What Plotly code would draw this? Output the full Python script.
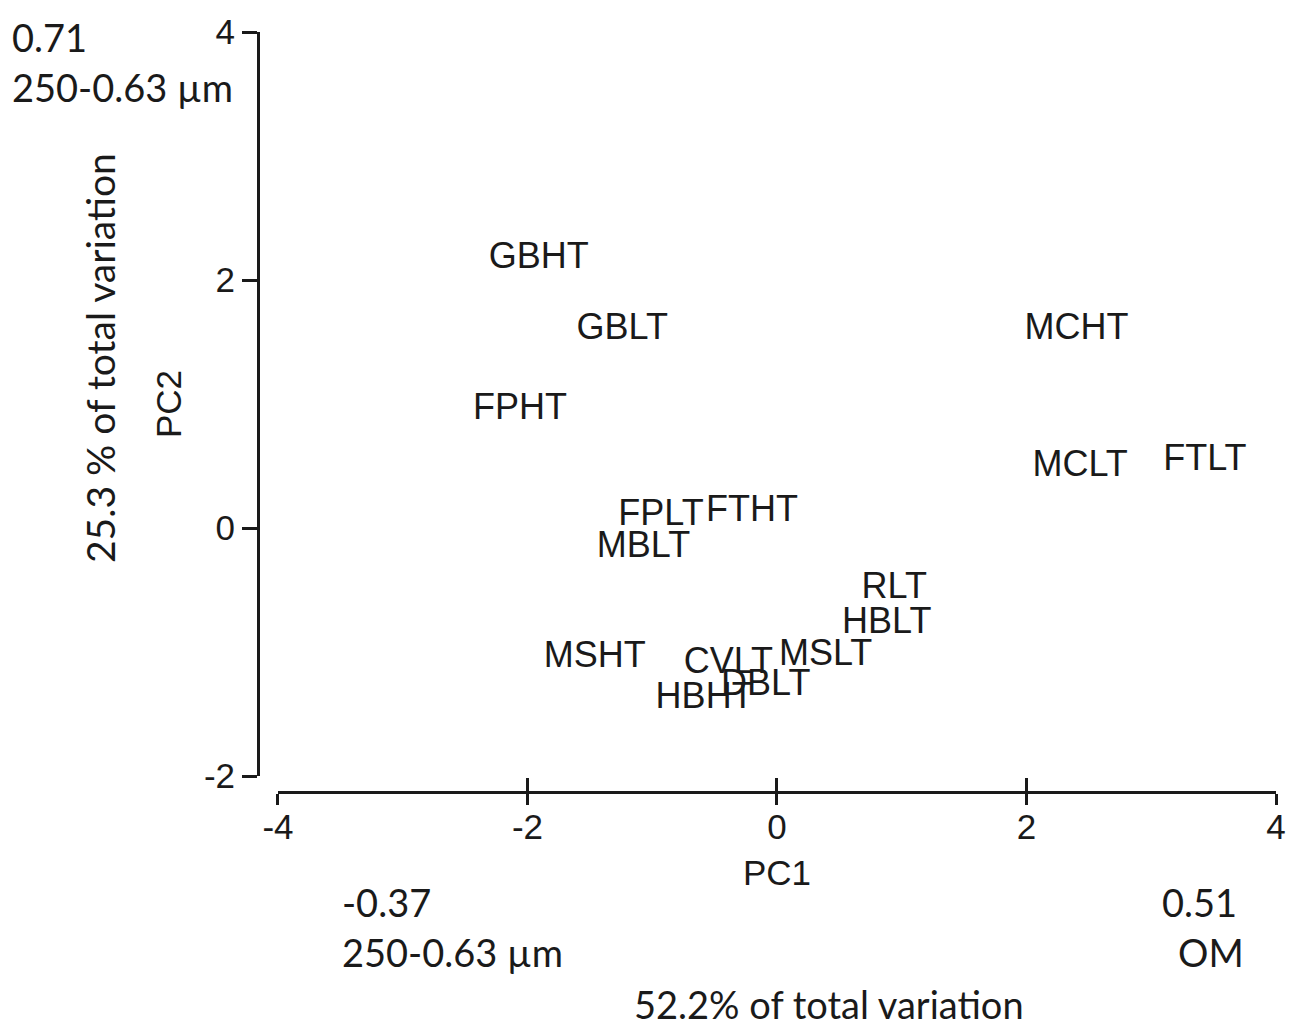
import plotly.graph_objects as go

# ---- data ----
labels = ["GBHT", "GBLT", "FPHT", "MCHT", "MCLT", "FTLT", "FPLT", "FTHT",
          "MBLT", "RLT", "HBLT", "MSHT", "MSLT", "CVLT", "DBLT", "HBHT"]
pc1 = [-1.91, -1.24, -2.06, 2.40, 2.43, 3.43, -0.93, -0.20,
       -1.07, 0.94, 0.88, -1.46, 0.39, -0.39, -0.09, -0.58]
pc2 = [2.17, 1.60, 0.95, 1.60, 0.49, 0.54, 0.10, 0.13,
       -0.16, -0.49, -0.77, -1.05, -1.03, -1.10, -1.27, -1.38]
x_ticks = [-4, -2, 0, 2, 4]
y_ticks = [-2, 0, 2, 4]

W, H = 1298, 1027
L, R, T, B = 258, 21, 27, 235
pw, ph = W - L - R, H - T - B

def px(x):
    return (x - L) / pw

def py(y):
    return (H - B - y) / ph

ARIAL = "Liberation Sans, Arial, sans-serif"
CALIBRI = "Lato, Carlito, Calibri, sans-serif"
INK = "#1a1a1a"

fig = go.Figure()
fig.add_trace(go.Scatter(
    x=pc1, y=pc2, text=labels, mode="text", textposition="middle center",
    textfont=dict(family=ARIAL, size=36, color=INK), showlegend=False,
    hoverinfo="text"))
# invisible trace on overlaid axis to activate inward ticks
fig.add_trace(go.Scatter(x=[x_ticks[0]], y=[y_ticks[0]], xaxis="x2", mode="markers",
                         marker=dict(opacity=0), showlegend=False, hoverinfo="skip"))

xd0 = px(278)
yd0 = py(776)

fig.update_layout(
    width=W, height=H, margin=dict(l=L, r=R, t=T, b=B),
    paper_bgcolor="white", plot_bgcolor="white",
    xaxis=dict(range=[-4, 4], domain=[xd0, 1], anchor="free", position=0,
               showgrid=False, zeroline=False, showline=True, linecolor=INK, linewidth=3,
               ticks="outside", ticklen=11, tickwidth=3, tickcolor=INK,
               tickvals=x_ticks, ticktext=[str(v) for v in x_ticks],
               ticklabelstandoff=-8,
               tickfont=dict(family=ARIAL, size=35, color=INK),
               title=dict(text="PC1", font=dict(family=ARIAL, size=35, color=INK), standoff=15)),
    xaxis2=dict(range=[-4, 4], domain=[xd0, 1], anchor="free", position=0, overlaying="x",
                showgrid=False, zeroline=False, showline=False,
                ticks="inside", ticklen=14, tickwidth=3, tickcolor=INK,
                tickvals=x_ticks, showticklabels=False),
    yaxis=dict(range=[-2, 4], domain=[yd0, 1], anchor="free", position=0,
               showgrid=False, zeroline=False, showline=True, linecolor=INK, linewidth=3,
               ticks="outside", ticklen=15, tickwidth=3, tickcolor=INK,
               tickvals=y_ticks, ticktext=[str(v) for v in y_ticks],
               tickfont=dict(family=ARIAL, size=35, color=INK),
               title=dict(text="PC2", font=dict(family=ARIAL, size=35, color=INK), standoff=10)),
)

ann = [
    ("0.71", 10, 32, "left"),
    ("250-0.63 µm", 10, 82, "left"),
    ("-0.37", 340, 903, "left"),
    ("250-0.63 µm", 340, 953, "left"),
    ("0.51", 1240, 903, "right"),
    ("OM", 1247, 953, "right"),
    ("52.2% of total variation", 830, 1005, "center"),
]
for text, x, y, al in ann:
    fig.add_annotation(text=text, xref="paper", yref="paper", x=px(x), y=py(y),
                       xanchor=al, yanchor="middle", showarrow=False,
                       font=dict(family=CALIBRI, size=38, color=INK))
fig.add_annotation(text="25.3 % of total variation", xref="paper", yref="paper",
                   x=px(100), y=py(355), xanchor="center", yanchor="middle",
                   textangle=-90, showarrow=False,
                   font=dict(family=CALIBRI, size=39, color=INK))

fig.write_html("out.html", config={"displayModeBar": False},
               post_script="document.body.style.margin='0';")
